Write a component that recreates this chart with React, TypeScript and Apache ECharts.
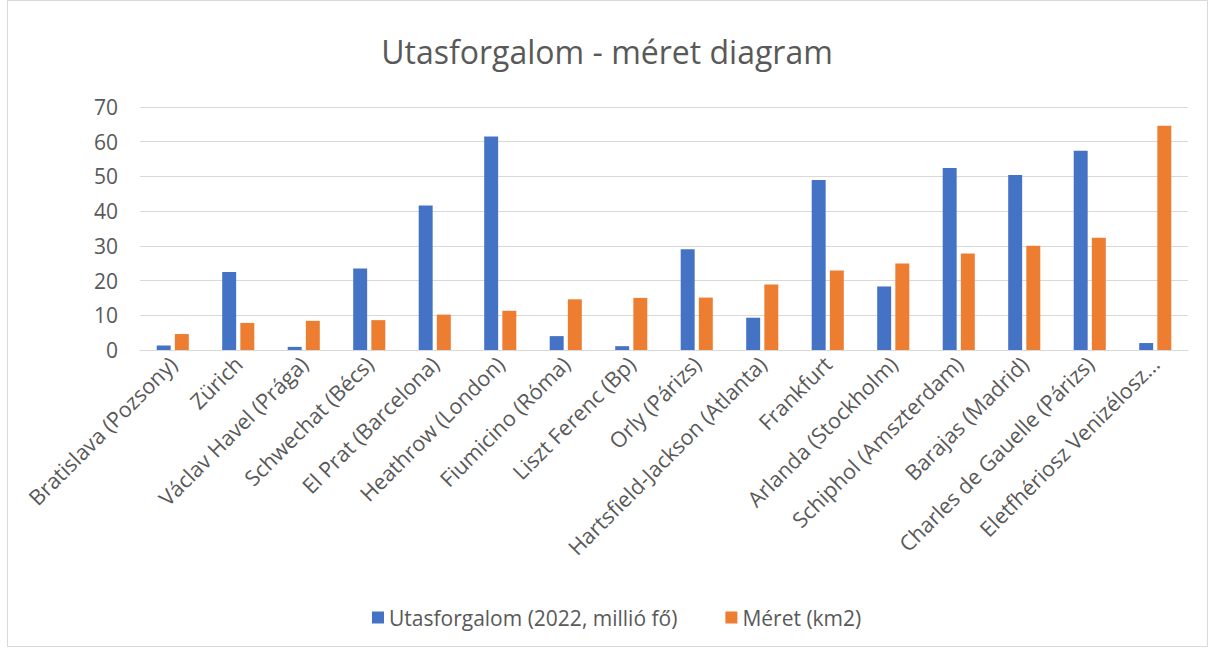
import React, { useEffect, useRef } from "react";
import * as echarts from "echarts";

const categories = [
  "Bratislava (Pozsony)",
  "Zürich",
  "Václav Havel (Prága)",
  "Schwechat (Bécs)",
  "El Prat (Barcelona)",
  "Heathrow (London)",
  "Fiumicino (Róma)",
  "Liszt Ferenc (Bp)",
  "Orly (Párizs)",
  "Hartsfield-Jackson (Atlanta)",
  "Frankfurt",
  "Arlanda (Stockholm)",
  "Schiphol (Amszterdam)",
  "Barajas (Madrid)",
  "Charles de Gauelle (Párizs)",
  "Eletfhériosz Venizélosz...",
];

const passengers = [1.3, 22.5, 0.9, 23.5, 41.6, 61.5, 4.0, 1.1, 29.0, 9.3, 49.0, 18.3, 52.4, 50.4, 57.4, 2.0];
const area = [4.6, 7.8, 8.4, 8.6, 10.2, 11.3, 14.6, 15.0, 15.1, 18.9, 22.9, 24.9, 27.8, 30.0, 32.3, 64.6];

const seriesNames = ["Utasforgalom (2022, millió fő)", "Méret (km2)"];
const yTicks = { min: 0, max: 70, interval: 10 };

const FONT = "'Open Sans', 'Noto Sans', sans-serif";
const TEXT = "#595959";

export default function App() {
  const ref = useRef<HTMLDivElement>(null);
  useEffect(() => {
    if (!ref.current) return;
    const chart = echarts.init(ref.current, null, { renderer: "svg" });
    chart.setOption({
      animation: false,
      backgroundColor: "#ffffff",
      title: {
        text: "Utasforgalom - méret diagram",
        left: "center",
        top: 30,
        textStyle: { fontFamily: FONT, fontSize: 32, fontWeight: "normal", color: TEXT },
      },
      graphic: [
        {
          type: "rect",
          shape: { x: 7.5, y: 0.5, width: 1200, height: 646 },
          style: { fill: "none", stroke: "#d9d9d9", lineWidth: 1 },
          silent: true,
        },
      ],
      legend: {
        top: 602,
        left: 367,
        icon: "rect",
        itemWidth: 12,
        itemHeight: 12,
        itemGap: 48,
        textStyle: { fontFamily: FONT, fontSize: 21, color: TEXT },
        data: seriesNames,
      },
      grid: { left: 140, right: 26, top: 107, bottom: 298, containLabel: false },
      xAxis: {
        type: "category",
        data: categories,
        axisLine: { lineStyle: { color: "#d9d9d9" } },
        axisTick: { show: false },
        axisLabel: {
          rotate: 45,
          interval: 0,
          fontFamily: FONT,
          fontSize: 21.5,
          color: TEXT,
          margin: 10,
        },
      },
      yAxis: {
        type: "value",
        min: yTicks.min,
        max: yTicks.max,
        interval: yTicks.interval,
        axisLine: { show: false },
        axisTick: { show: false },
        splitLine: { lineStyle: { color: "#d9d9d9", width: 1 } },
        axisLabel: { fontFamily: FONT, fontSize: 21, color: TEXT, margin: 22 },
      },
      series: [
        {
          name: seriesNames[0],
          type: "bar",
          data: passengers,
          itemStyle: { color: "#4472c4" },
          barGap: "30%",
          barCategoryGap: "51%",
        },
        {
          name: seriesNames[1],
          type: "bar",
          data: area,
          itemStyle: { color: "#ed7d31" },
        },
      ],
    });
    return () => chart.dispose();
  }, []);
  return (
    <div
      ref={ref}
      style={{ position: "fixed", left: 0, top: 0, width: 1214, height: 648 }}
    />
  );
}
